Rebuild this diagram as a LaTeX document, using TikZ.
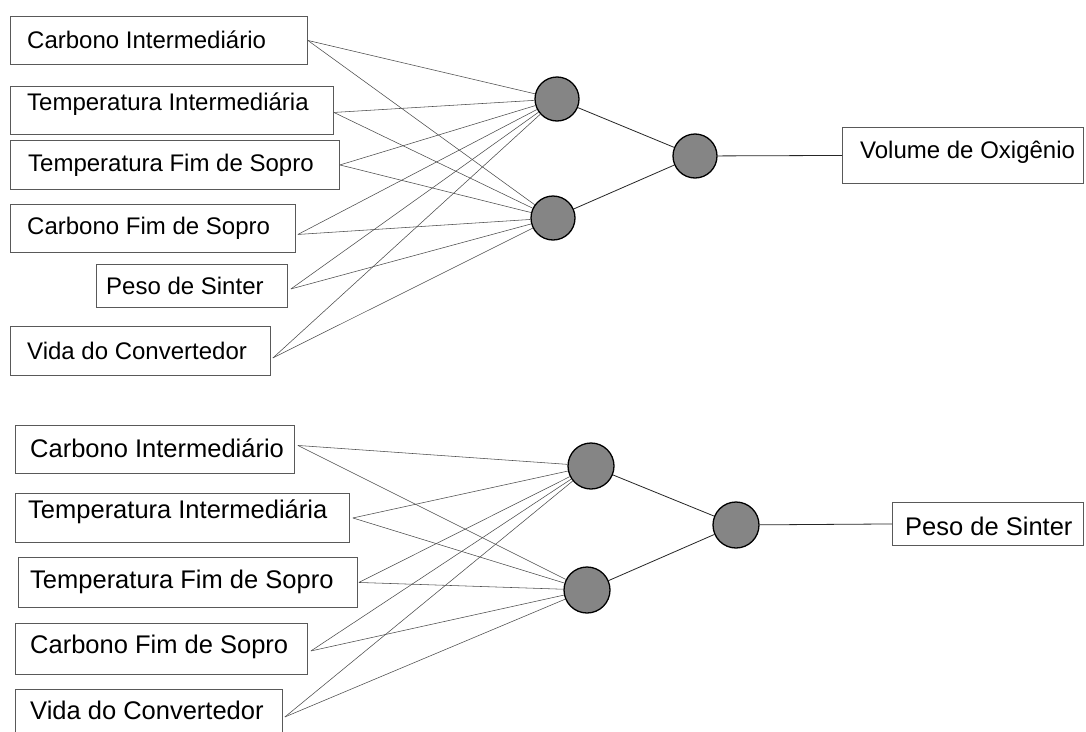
\documentclass[tikz,border=0pt]{standalone}
\usepackage{fontspec}
\setmainfont{Liberation Sans}
\tikzset{
  inbox/.style={draw=black!65, line width=0.9pt, fill=white, rectangle, inner sep=0pt},
  lbl/.style={anchor=base west, inner sep=0pt},
  neuron/.style={circle, draw=black, line width=1.3pt, fill=black!48, minimum size=44pt, inner sep=0pt},
  wire/.style={draw=black!70, line width=0.55pt},
  link/.style={draw=black!85, line width=0.8pt}
}
% #1 name, #2 x1, #3 y1, #4 x2, #5 y2, #6 text x, #7 baseline y, #8 text, #9 font size
\newcommand\mkinbox[9]{%
  \node[inbox, anchor=north west, minimum width={(#4-#2)*1pt}, minimum height={(#5-#3)*1pt}] (#1) at (#2,#3) {};
  \node[lbl, font=\fontsize{#9}{#9}\selectfont] (#1l) at (#6,#7) {#8};
}
\begin{document}
\begin{tikzpicture}[x=1pt,y=-1pt]
\useasboundingbox (0,0) rectangle (1086,731);
\fill[white] (0,0) rectangle (1086,731);
\clip (0,0) rectangle (1086,731);

% ---------- top network ----------
\mkinbox{a1}{10}{16}{307}{64}{27}{48}{Carbono Intermediário}{24}
\mkinbox{a2}{10}{86}{333}{134}{27}{110}{Temperatura Intermediária}{24}
\mkinbox{a3}{10}{140}{339}{189}{28}{171}{Temperatura Fim de Sopro}{24}
\mkinbox{a4}{10}{204}{295}{252}{27}{234}{Carbono Fim de Sopro}{24}
\mkinbox{a5}{96}{264}{287}{307}{106}{294}{Peso de Sinter}{24}
\mkinbox{a6}{10}{326}{270}{375}{27}{359}{Vida do Convertedor}{24}
\mkinbox{ya}{842}{127}{1083}{183}{860}{158}{Volume de Oxigênio}{24}

\node[neuron] (ha) at (557,99) {};
\node[neuron] (hb) at (553,218) {};
\node[neuron] (hoa) at (695,156) {};

\coordinate (a1s) at (a1.east);
\coordinate (a2s) at ([yshift=-2pt]a2.east);
\coordinate (a3s) at (a3.east);
\coordinate (a4s) at ([xshift=2pt,yshift=-6pt]a4.east);
\coordinate (a5s) at ([xshift=3pt,yshift=-3pt]a5.east);
\coordinate (a6s) at ([xshift=2pt,yshift=-7pt]a6.east);

\foreach \s in {a1s,a2s,a3s,a4s,a5s,a6s}{
  \draw[wire] (\s) -- (ha);
  \draw[wire] (\s) -- (hb);
}
\draw[link] (ha) -- (hoa);
\draw[link] (hb) -- (hoa);
\draw[link] (hoa) -- (ya.west);

% ---------- bottom network ----------
\mkinbox{b1}{15}{425}{294}{473}{30}{457}{Carbono Intermediário}{25.5}
\mkinbox{b2}{15}{493}{349}{542}{28}{518}{Temperatura Intermediária}{25.5}
\mkinbox{b3}{18}{557}{357}{607}{30}{588}{Temperatura Fim de Sopro}{25.5}
\mkinbox{b4}{15}{623}{307}{674}{30}{653}{Carbono Fim de Sopro}{25.5}
\mkinbox{b5}{15}{689}{282}{742}{30}{719}{Vida do Convertedor}{25.5}
\mkinbox{yb}{892}{502}{1083}{545}{905}{535}{Peso de Sinter}{25.5}

\node[neuron, minimum size=46pt] (hc) at (591,466) {};
\node[neuron, minimum size=46pt] (hd) at (587,590) {};
\node[neuron, minimum size=46pt] (hob) at (736,525) {};

\coordinate (b1s) at ([xshift=3pt,yshift=4pt]b1.east);
\coordinate (b2s) at ([xshift=3pt]b2.east);
\coordinate (b3s) at ([xshift=1pt]b3.east);
\coordinate (b4s) at ([xshift=3pt,yshift=-2pt]b4.east);
\coordinate (b5s) at ([xshift=2pt,yshift=-1pt]b5.east);

\foreach \s in {b1s,b2s,b3s,b4s,b5s}{
  \draw[wire] (\s) -- (hc);
  \draw[wire] (\s) -- (hd);
}
\draw[link] (hc) -- (hob);
\draw[link] (hd) -- (hob);
\draw[link] (hob) -- (yb.west);
\end{tikzpicture}
\end{document}
